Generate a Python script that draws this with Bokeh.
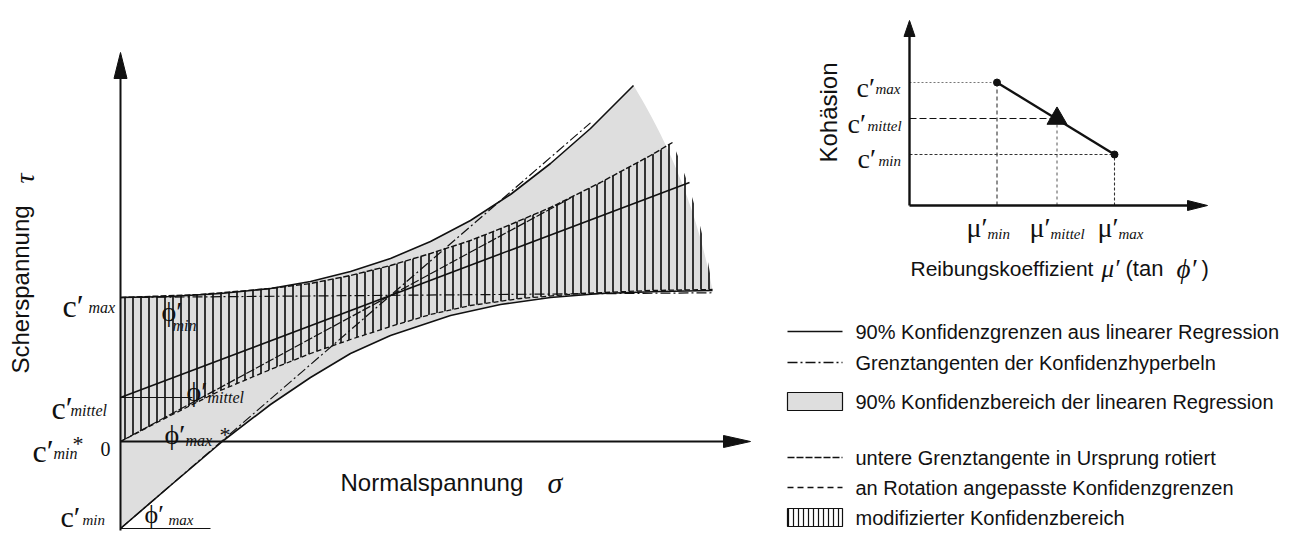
import numpy as np
from bokeh.plotting import figure
from bokeh.models import Range1d
from bokeh.core.properties import value
from bokeh.embed import file_html
from bokeh.resources import INLINE

# ---------------- main chart data (schematic stress units) ----------------
C_MAX = 144          # c'max
C_MITTEL = 44        # c'mittel
C_MIN = -87          # c'min
C_MIN_STAR = 0       # c'min*
TAN_MITTEL = 0.378   # slope of mean regression line
TAN_MAX = 0.863      # slope of lower boundary tangent (phi'max)
TAN_MIN = 0.008      # slope of upper boundary tangent (phi'min)
TAN_MAX_STAR = 0.541 # slope of tangent rotated into origin
X_MITTEL_END = 569
X_TAN_MAX_END = 470
X_TAN_MIN_END = 592
X_ROT_END = 450
X_AXIS_END = 630
Y_AXIS_END = 389
Y_AXIS_START = -89

# 90% confidence limits of the linear regression
upper_x = [0, 50, 100, 150, 190, 230, 270, 310, 350, 390, 430, 470, 513]
upper_y = [144, 145, 148, 153, 160, 170, 183, 200, 221, 247, 278, 313, 356]
lower_x = [0, 50, 103, 150, 190, 230, 270, 330, 380, 430, 480, 540, 592]
lower_y = [-87, -44, 1, 37, 64, 88, 106, 126, 137, 144, 148, 150, 151]

# confidence limits adapted to the rotation (modified region)
mod_up_x = [0, 80, 150, 190, 230, 270, 310, 350, 383, 430, 480, 530, 552]
mod_up_y = [144, 147, 153, 158, 166, 176, 188, 201, 214, 234, 259, 286, 299]
mod_lo_x = [0, 50, 100, 150, 190, 230, 270, 310, 350, 400, 460, 530, 592]
mod_lo_y = [0, 26, 51, 72, 88, 102, 115, 127, 136, 143, 148, 151, 152]

# ---------------- inset data ----------------
MU = [0.35, 0.59, 0.82]      # mu'min, mu'mittel, mu'max
COH = [1.23, 0.87, 0.51]     # c'max, c'mittel, c'min
MU_AXIS_END = 1.192
COH_AXIS_END = 1.85

# ---------------- legend ----------------
legend_labels = [
    "90% Konfidenzgrenzen aus linearer Regression",
    "Grenztangenten der Konfidenzhyperbeln",
    "90% Konfidenzbereich der linearen Regression",
    "untere Grenztangente in Ursprung rotiert",
    "an Rotation angepasste  Konfidenzgrenzen",
    "modifizierter Konfidenzbereich",
]

SANS = "Liberation Sans"
SERIF = "Liberation Serif"
INK = "#111111"
GRAY = "#dedede"

W, H = 1314, 534
p = figure(width=W, height=H, x_range=Range1d(-120, W - 120), y_range=Range1d(441 - H, 441),
           output_backend="svg", toolbar_location=None, min_border=0,
           x_axis_location=None, y_axis_location=None)
p.grid.visible = False
p.outline_line_color = None
p.background_fill_color = "white"
p.extra_x_ranges = {"ix": Range1d((0 - 909) / 250, (W - 909) / 250), "scr": Range1d(0, W)}
p.extra_y_ranges = {"iy": Range1d((205 - H) / 100, 205 / 100), "scr": Range1d(H, 0)}


def arc_pts(x1, y1, x2, y2, cy, n=40):
    a1, a2 = np.arctan2(y1 - cy, x1), np.arctan2(y2 - cy, x2)
    r1, r2 = np.hypot(x1, y1 - cy), np.hypot(x2, y2 - cy)
    t = np.linspace(0, 1, n)
    a = a1 + (a2 - a1) * t
    r = r1 + (r2 - r1) * t
    return list(r * np.cos(a)), list(cy + r * np.sin(a))


# gray confidence region
ax_, ay_ = arc_pts(upper_x[-1], upper_y[-1], lower_x[-1], lower_y[-1], C_MITTEL)
p.patch(upper_x + ax_ + lower_x[::-1], upper_y + ay_ + lower_y[::-1], fill_color=GRAY, line_color=None)

# modified (hatched) region
bx, by = arc_pts(mod_up_x[-1], mod_up_y[-1], mod_lo_x[-1], mod_lo_y[-1], C_MITTEL)
p.patch(mod_up_x + bx + mod_lo_x[::-1], mod_up_y + by + mod_lo_y[::-1], fill_color=None,
        line_color=None, hatch_pattern="|", hatch_scale=8, hatch_weight=1.7, hatch_color="#151515")

# boundary lines
p.line(upper_x, upper_y, line_color=INK, line_width=1.6)
p.line(lower_x, lower_y, line_color=INK, line_width=1.6)
p.line(mod_up_x, mod_up_y, line_color=INK, line_width=1.4, line_dash="6 2")
p.line(mod_lo_x, mod_lo_y, line_color=INK, line_width=1.3, line_dash="5 3")
# mean regression line
p.line([0, X_MITTEL_END], [C_MITTEL, C_MITTEL + TAN_MITTEL * X_MITTEL_END], line_color=INK, line_width=1.6)
# boundary tangents (dash-dot)
p.line([0, X_TAN_MIN_END], [C_MAX, C_MAX + TAN_MIN * X_TAN_MIN_END], line_color=INK,
       line_width=1.2, line_dash="10 3 2 3")
p.line([0, X_TAN_MAX_END], [C_MIN, C_MIN + TAN_MAX * X_TAN_MAX_END], line_color=INK,
       line_width=1.2, line_dash="10 3 2 3")
# lower tangent rotated into origin
p.line([0, X_ROT_END], [C_MIN_STAR, C_MIN_STAR + TAN_MAX_STAR * X_ROT_END], line_color=INK,
       line_width=1.2, line_dash="9 2")
# short horizontal angle references
p.line([0, 72], [C_MITTEL, C_MITTEL], line_color=INK, line_width=1.2)
p.line([0, 90], [C_MIN, C_MIN], line_color=INK, line_width=1.2)

# main axes with arrow heads
p.line([0, 0], [Y_AXIS_START, Y_AXIS_END - 20], line_color=INK, line_width=2)
p.line([0, X_AXIS_END - 20], [0, 0], line_color=INK, line_width=2.2)
p.patch([0, -6.5, 6.5], [Y_AXIS_END, Y_AXIS_END - 26, Y_AXIS_END - 26], fill_color=INK, line_color=INK)
p.patch([X_AXIS_END, X_AXIS_END - 27, X_AXIS_END - 27], [0, 6, -6], fill_color=INK, line_color=INK)

# ---------------- inset ----------------
IX = dict(x_range_name="ix", y_range_name="iy")
guide_h = [("2 2", "#777777", 1.0), ("7 3", INK, 1.2), ("3 2", "#333333", 1.1)]
guide_v = [("4 3", "#333333", 1.1), ("3 3", "#555555", 1.0), ("3 2", "#333333", 1.1)]
for i in range(3):
    d, c, w = guide_h[i]
    p.line([0, MU[i]], [COH[i], COH[i]], line_dash=d, line_color=c, line_width=w, **IX)
    d, c, w = guide_v[i]
    p.line([MU[i], MU[i]], [0, COH[i]], line_dash=d, line_color=c, line_width=w, **IX)
p.line([MU[0], MU[2]], [COH[0], COH[2]], line_color=INK, line_width=2.4, **IX)
p.scatter([MU[0], MU[2]], [COH[0], COH[2]], size=7, marker="circle", fill_color=INK, line_color=INK, **IX)
p.scatter([MU[1]], [COH[1]], size=20, marker="triangle", fill_color=INK, line_color=INK, **IX)
p.line([0, 0], [0, COH_AXIS_END - 0.12], line_color=INK, line_width=2.4, **IX)
p.line([0, MU_AXIS_END - 0.06], [0, 0], line_color=INK, line_width=2.4, **IX)
p.patch([0, -0.022, 0.022], [COH_AXIS_END, COH_AXIS_END - 0.16, COH_AXIS_END - 0.16], fill_color=INK, line_color=INK, **IX)
p.patch([MU_AXIS_END, MU_AXIS_END - 0.08, MU_AXIS_END - 0.08], [0, 0.05, -0.05], fill_color=INK, line_color=INK, **IX)

# ---------------- legend (screen coordinates) ----------------
S = dict(x_range_name="scr", y_range_name="scr")
rows = [331, 362, 401, 457, 487, 517]
LX0, LX1, TX = 787, 842, 855
p.line([LX0, LX1], [rows[0], rows[0]], line_color=INK, line_width=1.4, **S)
p.line([LX0, LX1], [rows[1], rows[1]], line_color=INK, line_width=1.4, line_dash="10 3 2 3", **S)
p.quad(left=[LX0], right=[LX1], top=[rows[2] - 9], bottom=[rows[2] + 9], fill_color=GRAY,
       line_color=INK, line_width=1.2, **S)
p.line([LX0, LX1], [rows[3], rows[3]], line_color=INK, line_width=1.4, line_dash="7 2", **S)
p.line([LX0, LX1], [rows[4], rows[4]], line_color=INK, line_width=1.4, line_dash="6 4", **S)
p.quad(left=[LX0], right=[LX1], top=[rows[5] - 9], bottom=[rows[5] + 9], fill_color="white",
       line_color=INK, line_width=1.2, hatch_pattern="|", hatch_scale=5, hatch_weight=1.2,
       hatch_color=INK, **S)


def T(x, y, s, size, font=SANS, style="normal", align="left", base="alphabetic", angle=0):
    p.text(x=[x], y=[y], text=[s], text_font=value(font), text_font_size=f"{size}px",
           text_font_style=style, text_align=align, text_baseline=base, angle=angle,
           text_color=INK, **S)


for lab, ry in zip(legend_labels, rows):
    T(TX, ry, lab, 20, base="middle")

# axis titles
T(20, 373, "Scherspannung", 24, align="left", base="middle", angle=np.pi / 2)
T(24, 178, "τ", 28, font=SERIF, style="italic", align="center", base="middle", angle=np.pi / 2)
T(340, 482, "Normalspannung", 24)
T(547, 482, "σ", 30, font=SERIF, style="italic")
T(828, 112, "Kohäsion", 24, align="center", base="middle", angle=np.pi / 2)
T(910, 268, "Reibungskoeffizient", 21)
T(1101, 268, "μ′", 25, font=SERIF, style="italic")
T(1125, 268, "(tan", 22)
T(1176, 268, "ϕ′", 27, font=SERIF, style="italic")
T(1201, 268, ")", 22)


# math labels: symbol + subscript
def M(x, y, main, sx, sy, sub, size=32, ssize=16):
    T(x, y, main, size, font=SERIF)
    T(sx, sy, sub, ssize, font=SERIF, style="italic")


M(62, 305, "c′", 88, 307, "max")
M(51, 407, "c′", 70, 410, "mittel")
M(32, 450, "c′", 53, 453, "min")
T(72, 443, "*", 22, font=SERIF)
T(100, 448, "0", 20, font=SERIF)
M(60, 516, "c′", 82, 519, "min", size=30, ssize=15)
M(144, 514, "ϕ′", 168, 519, "max", size=26, ssize=15)
M(161, 311, "ϕ′", 172, 325, "min", size=28)
M(186, 391, "ϕ′", 207, 397, "mittel", size=28)
M(164, 434, "ϕ′", 185, 440, "max", size=28)
T(219, 434, "*", 22, font=SERIF)

# math labels inset
M(856, 87, "c′", 875, 88, "max", size=28, ssize=15)
M(847, 123, "c′", 867, 125, "mittel", size=28, ssize=15)
M(857, 158, "c′", 878, 160, "min", size=28, ssize=15)
M(966, 227, "μ′", 987, 233, "min", size=28, ssize=15)
M(1029, 227, "μ′", 1050, 233, "mittel", size=28, ssize=15)
M(1097, 227, "μ′", 1118, 233, "max", size=28, ssize=15)

open("out.html", "w").write(file_html(p, INLINE))
